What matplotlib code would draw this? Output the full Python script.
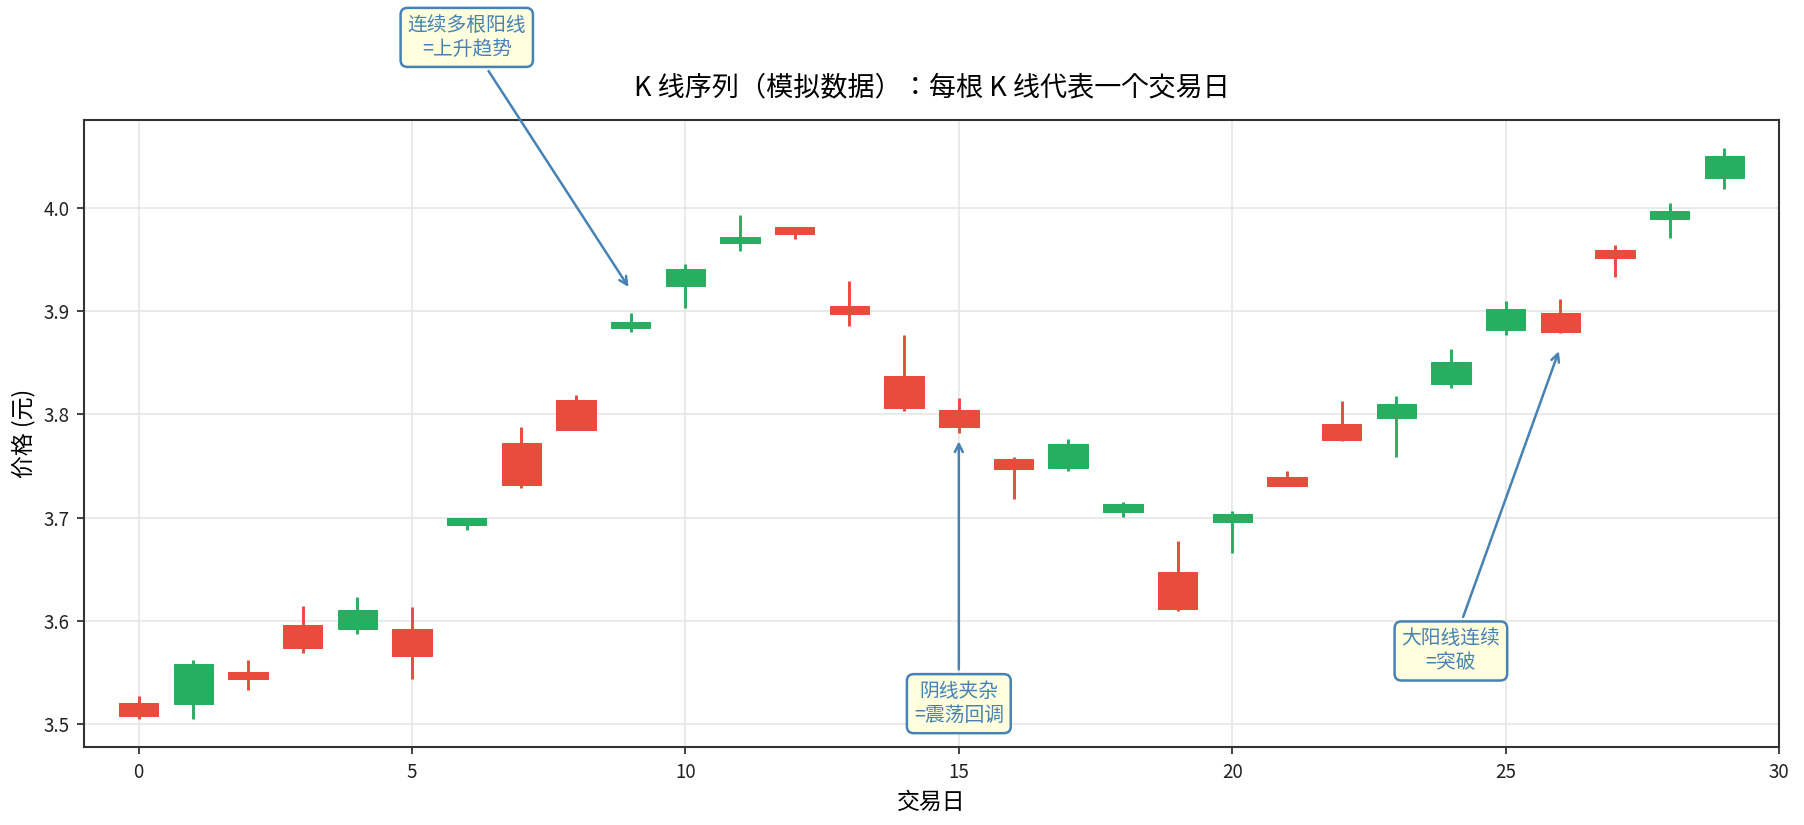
import matplotlib
matplotlib.use("Agg")
import matplotlib.pyplot as plt
from matplotlib.patches import Rectangle

plt.rcParams['font.family'] = ['Noto Sans CJK SC', 'DejaVu Sans']
plt.rcParams['axes.unicode_minus'] = False

days = list(range(30))
opens = [3.5209, 3.5201, 3.5506, 3.5963, 3.5927, 3.5923, 3.6934, 3.7725, 3.8138, 3.8832,
         3.9246, 3.9655, 3.9815, 3.9049, 3.8371, 3.8042, 3.7568, 3.7484, 3.7051, 3.6477,
         3.6954, 3.7396, 3.7909, 3.7961, 3.8291, 3.8820, 3.8981, 3.9591, 3.9888, 4.0293]
closes = [3.5076, 3.5586, 3.5441, 3.5742, 3.6108, 3.5666, 3.6998, 3.7319, 3.7853, 3.8896,
          3.9406, 3.9719, 3.9751, 3.8977, 3.8066, 3.7881, 3.7468, 3.7713, 3.7135, 3.6112,
          3.7035, 3.7303, 3.7757, 3.8102, 3.8507, 3.9021, 3.8800, 3.9510, 3.9968, 4.0502]
highs = [3.5277, 3.5618, 3.5622, 3.6148, 3.6232, 3.6132, 3.6998, 3.7877, 3.8186, 3.8981,
         3.9458, 3.9932, 3.9815, 3.9290, 3.8768, 3.8158, 3.7584, 3.7761, 3.7155, 3.6774,
         3.7067, 3.7456, 3.8130, 3.8182, 3.8632, 3.9097, 3.9117, 3.9643, 4.0048, 4.0578]
lows = [3.5056, 3.5056, 3.5337, 3.5686, 3.5871, 3.5441, 3.6882, 3.7283, 3.7853, 3.8800,
        3.9029, 3.9583, 3.9699, 3.8860, 3.8038, 3.7825, 3.7183, 3.7456, 3.7006, 3.6100,
        3.6657, 3.7303, 3.7745, 3.7592, 3.8258, 3.8772, 3.8788, 3.9330, 3.9711, 4.0185]

UP = '#27AE60'
DOWN = '#E74C3C'

fig = plt.figure(figsize=(1804/150, 825/150), dpi=150)
ax = fig.add_axes([0.0466, 0.0945, 0.9395, 0.76])

width = 0.72
for d, o, c, h, l in zip(days, opens, closes, highs, lows):
    col = UP if c >= o else DOWN
    ax.vlines(d, l, h, color=col, linewidth=1.4, zorder=2)
    ax.add_patch(Rectangle((d - width/2, min(o, c)), width, abs(c - o),
                           facecolor=col, edgecolor=col, linewidth=0.5, zorder=3))

ax.set_xlim(-1, 30)
ax.set_ylim(3.478, 4.085)
ax.set_yticks([3.5, 3.6, 3.7, 3.8, 3.9, 4.0])
ax.set_xticks([0, 5, 10, 15, 20, 25, 30])
ax.grid(True, color='#e6e6e6', linewidth=0.8, zorder=0)
ax.set_axisbelow(True)
for s in ax.spines.values():
    s.set_color('#333333')
    s.set_linewidth(1.0)
ax.tick_params(labelsize=9, colors='#222222')

ax.set_title('K 线序列（模拟数据）：每根 K 线代表一个交易日', fontsize=13, pad=12,
             family=['Noto Sans CJK JP', 'DejaVu Sans'])
ax.set_xlabel('交易日', fontsize=11)
ax.set_ylabel('价格 (元)', fontsize=11)

box = dict(boxstyle='round,pad=0.35', facecolor='#FFFFE0', edgecolor='#4682B4', linewidth=1.2)
arrow = dict(arrowstyle='->', color='#4682B4', linewidth=1.2)
notes = [
    ('连续多根阳线\n=上升趋势', (9, 3.92), (6, 4.165)),
    ('阴线夹杂\n=震荡回调', (15, 3.778), (15, 3.52)),
    ('大阳线连续\n=突破', (26, 3.865), (24, 3.571)),
]
for text, xy, xytext in notes:
    ax.annotate(text, xy=xy, xytext=xytext, fontsize=9.5, color='#4682B4',
                ha='center', va='center', bbox=box, arrowprops=arrow,
                annotation_clip=False, zorder=5)

fig.savefig('out.png', dpi=150)
